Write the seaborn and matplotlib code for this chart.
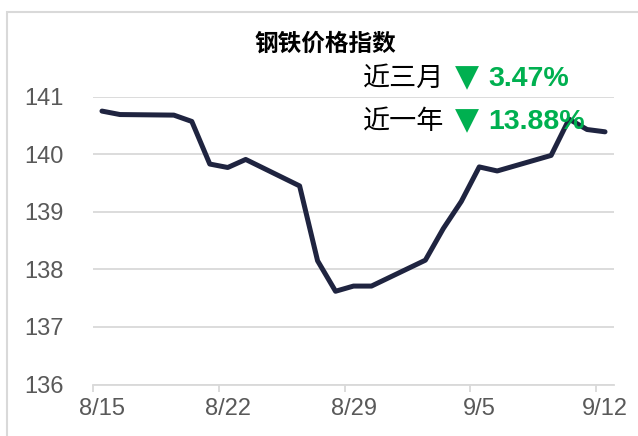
import matplotlib
matplotlib.use("Agg")
import matplotlib.pyplot as plt
import matplotlib.dates as mdates
from matplotlib.patches import Rectangle
import seaborn as sns
import pandas as pd

# ---- data ----
dates = ["2024-08-15", "2024-08-16", "2024-08-19", "2024-08-20", "2024-08-21",
         "2024-08-22", "2024-08-23", "2024-08-26", "2024-08-27", "2024-08-28",
         "2024-08-29", "2024-08-30", "2024-09-02", "2024-09-03", "2024-09-04",
         "2024-09-05", "2024-09-06", "2024-09-09", "2024-09-10", "2024-09-11",
         "2024-09-12"]
values = [140.75, 140.69, 140.68, 140.57, 139.83,
          139.77, 139.91, 139.45, 138.15, 137.62,
          137.71, 137.71, 138.16, 138.71, 139.18,
          139.78, 139.71, 139.98, 140.61, 140.43,
          140.39]
tick_dates = ["2024-08-15", "2024-08-22", "2024-08-29", "2024-09-05", "2024-09-12"]
tick_labels = ["8/15", "8/22", "8/29", "9/5", "9/12"]
y_ticks = [136, 137, 138, 139, 140, 141]
title = "钢铁价格指数"
note_labels = ["近三月", "近一年"]
note_values = ["3.47%", "13.88%"]

LINE = "#1F2440"
GRID = "#D9D9D9"
GREEN = "#00B050"
TICKC = "#595959"

sns.set_theme(style="white")
plt.rcParams['font.family'] = ['Liberation Sans', 'Noto Sans CJK SC', 'DejaVu Sans']

W, H = 638, 436
fig = plt.figure(figsize=(W / 100, H / 100), dpi=100)
ax = fig.add_axes([93 / W, 1 - 384.5 / H, (614 - 93) / W, (384.5 - 96.7) / H])

half_day = pd.Timedelta(hours=12)
df = pd.DataFrame({"date": pd.to_datetime(dates) + half_day, "value": values})
sns.lineplot(data=df, x="date", y="value", ax=ax, color=LINE, linewidth=3.6,
             solid_capstyle="round", zorder=3)

ax.set_xlim(pd.Timestamp("2024-08-15"), pd.Timestamp("2024-09-13"))
ax.set_ylim(y_ticks[0], y_ticks[-1])
ax.set_xlabel("")
ax.set_ylabel("")

# y axis
ax.set_yticks(y_ticks)
ax.set_yticklabels([str(v) for v in y_ticks])
ax.tick_params(axis="y", length=0, pad=21, labelsize=17, labelcolor=TICKC)
ax.grid(axis="y", color=GRID, linewidth=1.3)
ax.grid(axis="x", visible=False)

# x axis: tick marks at day boundaries, labels at day centers
tpos = pd.to_datetime(tick_dates)
ax.set_xticks(mdates.date2num(tpos))
ax.set_xticklabels([""] * len(tpos))
ax.set_xticks(mdates.date2num(tpos + half_day), minor=True)
ax.set_xticklabels(tick_labels, minor=True)
ax.tick_params(axis="x", which="major", length=5, width=1.3, color=GRID, direction="out", bottom=True)
ax.tick_params(axis="x", which="minor", length=0, pad=10, labelsize=17, labelcolor=TICKC, bottom=True)

for s in ["top", "right", "left"]:
    ax.spines[s].set_visible(False)
ax.spines["bottom"].set_color(GRID)
ax.spines["bottom"].set_linewidth(1.3)

# title
fig.text(325 / W, 1 - 44 / H, title, ha="center", va="center", fontsize=17,
         fontweight="bold", family=["Noto Sans CJK SC", "DejaVu Sans"], color="black")

# notes
baselines = [86, 129]
for lab, val, yb in zip(note_labels, note_values, baselines):
    y = 1 - yb / H
    fig.text(363 / W, y, lab, ha="left", va="baseline", fontsize=19.5,
             family=["Noto Sans CJK SC", "DejaVu Sans"], color="black")
    fig.text(455 / W, y, "▼", ha="left", va="baseline", fontsize=22.5,
             family=["DejaVu Sans"], color=GREEN)
    fig.text(488 / W, y, val, ha="left", va="baseline", fontsize=20.5,
             fontweight="bold", family=["Liberation Sans", "DejaVu Sans"], color=GREEN)

# chart border
fig.patches.append(Rectangle((7 / W, -0.1), 1.2, 1 - 12 / H + 0.1, transform=fig.transFigure,
                             fill=False, edgecolor=GRID, linewidth=1.5))

fig.savefig("out.png", dpi=100)
